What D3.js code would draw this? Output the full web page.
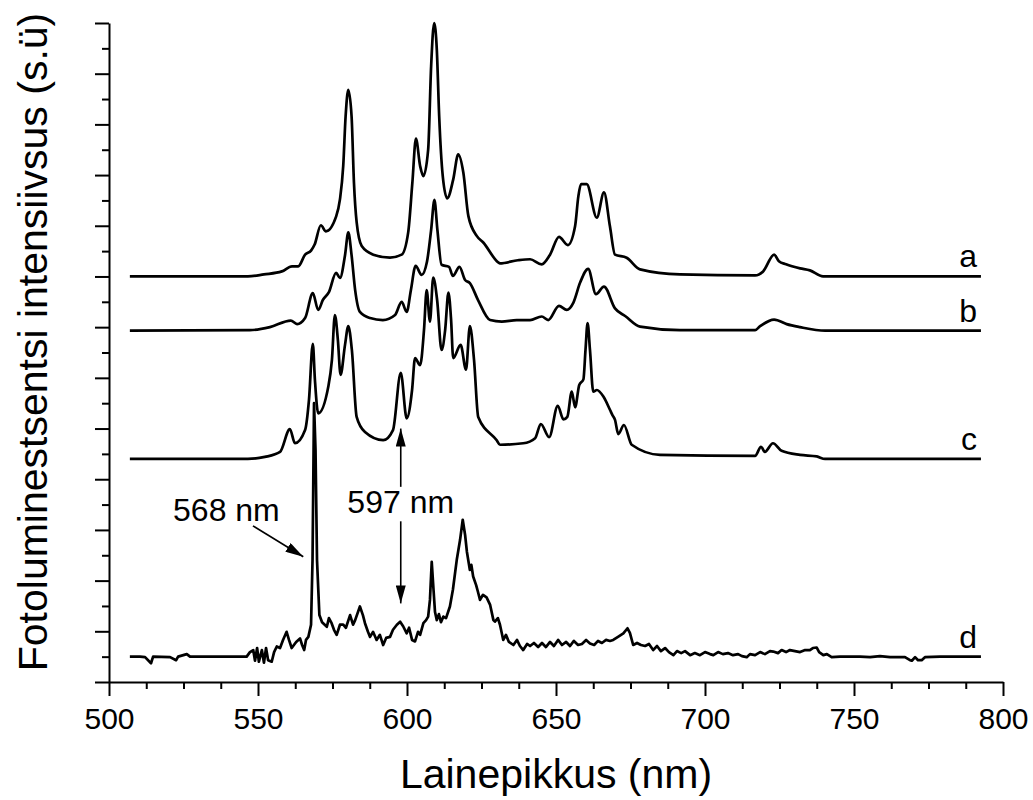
<!DOCTYPE html>
<html>
<head>
<meta charset="utf-8">
<script src="https://cdn.jsdelivr.net/npm/d3@7"></script>
<style>
  html, body { margin: 0; padding: 0; background: #fff; }
  svg { display: block; }
  text { font-family: Arial, "Liberation Sans", sans-serif; fill: #000; }
</style>
</head>
<body>
<svg id="chart" width="1033" height="800"></svg>
<script>
// ---- data (wavelength nm, relative intensity in axis units) ----
const seriesA = [[507,0],[546.6,0],[552,0.04],[558,0.1],[561.4,0.2],[563.5,0.2],[565.8,0.43],[567.8,0.51],[569,0.63],[571.1,1.01],[572.8,0.89],[576.2,1.18],[577.5,1.52],[578.6,2.18],[579.4,3.16],[580.3,3.68],[581.4,3.16],[582.2,1.85],[583.1,1.07],[584.8,0.6],[588.7,0.43],[594.3,0.37],[598.2,0.43],[600.4,0.87],[601.8,1.85],[603.0,2.72],[604.4,2.18],[605.5,1.98],[607.1,2.5],[608.1,4.15],[609.1,5.0],[610.0,4.48],[610.8,3.16],[612.0,1.98],[613.5,1.54],[615.5,1.91],[617.2,2.41],[618.9,2.05],[620.6,1.19],[623.4,0.8],[625.6,0.67],[630.6,0.28],[631.2,0.26],[637.2,0.32],[641.3,0.34],[645.2,0.24],[648,0.43],[651,0.78],[654,0.62],[656.4,0.99],[657.5,1.58],[658.4,1.82],[660.3,1.82],[663.7,1.16],[666.1,1.66],[668.1,0.99],[669.8,0.43],[673.7,0.37],[678.2,0.14],[691.6,0.04],[716.8,0.02],[719.5,0.1],[723.2,0.43],[724.8,0.3],[727.2,0.24],[731.9,0.16],[735.2,0.12],[739.6,0],[792.6,0]];

const seriesB = [[507,0],[547.3,0.01],[554.0,0.07],[561.0,0.2],[563.1,0.13],[565.8,0.25],[568.4,0.74],[570.2,0.41],[571.8,0.61],[573.8,0.76],[576.2,1.14],[577.5,1.04],[579.2,1.49],[580.3,1.94],[581.4,1.49],[582.6,0.8],[584.2,0.37],[587.6,0.25],[591.9,0.21],[596,0.31],[598.2,0.57],[599.9,0.37],[601.3,0.8],[602.9,1.28],[604.9,1.1],[606.7,1.36],[608.1,1.99],[609.2,2.58],[610.2,1.99],[611.6,1.3],[614.1,1.26],[615.4,1.08],[617.6,1.26],[619.5,1.0],[621.1,0.94],[623.8,0.61],[627.9,0.21],[631.8,0.18],[636.8,0.21],[641.3,0.21],[645.2,0.28],[647.4,0.21],[651.0,0.49],[653.6,0.41],[655.8,0.55],[658.1,0.95],[660.8,1.22],[663.4,0.72],[666.1,0.87],[669.8,0.44],[673.2,0.29],[678.2,0.08],[691.6,0.01],[716.8,0.01],[718.5,0.09],[723.2,0.22],[727.4,0.13],[731.9,0.07],[740.3,0],[792.6,0]];

const seriesC = [[507,0],[546.6,0],[552.3,0.04],[557.4,0.14],[560.7,0.59],[562.4,0.31],[565.8,0.57],[567.1,1.16],[568.4,2.27],[569.1,1.56],[570.2,0.9],[573.6,1.43],[574.8,1.95],[575.8,2.84],[576.8,2.35],[577.7,1.66],[579.2,2.25],[580.3,2.62],[581.5,2.15],[583.1,0.83],[585.9,0.53],[592,0.37],[595.3,0.57],[597.9,1.7],[599.9,0.8],[601.7,1.36],[602.7,1.99],[604.4,1.85],[605.7,2.54],[606.6,3.33],[607.7,2.71],[608.8,3.58],[610.1,3.14],[611.6,2.15],[612.8,2.54],[613.9,3.28],[614.8,2.74],[615.5,1.99],[618.0,2.25],[619.8,1.76],[621.1,2.62],[622.5,1.95],[623.9,0.83],[630.1,0.37],[631.2,0.28],[639.0,0.31],[643.0,0.41],[644.9,0.69],[647.7,0.43],[650.6,1.05],[652.5,0.78],[653.8,0.83],[655.3,1.33],[656.4,1.02],[657.8,1.46],[659.2,1.57],[659.9,2.15],[660.6,2.68],[661.4,2.15],[662.5,1.33],[663.7,1.36],[665.9,1.23],[668.1,0.97],[668.9,0.87],[669.8,0.77],[670.9,0.49],[672.8,0.67],[675.4,0.28],[684.9,0.08],[716.8,0.06],[718.8,0.24],[720.1,0.14],[722.8,0.31],[725.7,0.16],[731.9,0.08],[737.5,0.05],[740.3,0],[792.6,0]];

const seriesD = [[507.0,0],[510.4,0],[512.1,-0.01],[514.1,-0.13],[514.8,0],[520.5,-0.01],[522.5,-0.07],[523.2,0],[526.1,0.05],[527.2,0],[546.2,0],[547.3,0.09],[548.4,0.13],[549.0,-0.08],[549.7,0.17],[550.3,-0.10],[551.3,0.13],[552.0,-0.12],[552.7,0.17],[553.4,-0.07],[554.6,-0.10],[555.4,0.09],[556.3,0.20],[557.4,0.17],[558.4,0.33],[559.6,0.49],[560.4,0.33],[561.3,0.17],[562.8,0.29],[564.1,0.36],[564.8,0.23],[565.5,0.13],[566.1,0.33],[566.9,0.39],[567.8,0.63],[568.3,1.91],[568.8,5.00],[569.3,4.08],[569.8,1.91],[570.6,0.82],[571.5,0.68],[573.1,0.59],[573.8,0.76],[574.7,0.66],[575.5,0.53],[576.4,0.43],[577.5,0.63],[578.6,0.63],[579.5,0.57],[580.9,0.82],[581.9,0.63],[582.6,0.72],[584.2,0.99],[585.2,0.82],[585.9,0.66],[586.9,0.49],[587.6,0.39],[588.6,0.49],[589.8,0.33],[590.9,0.43],[592.0,0.23],[593.0,0.37],[594.3,0.39],[595.3,0.53],[596.6,0.63],[597.7,0.69],[598.7,0.60],[599.9,0.46],[600.7,0.57],[601.7,0.33],[602.7,0.30],[603.7,0.49],[604.4,0.43],[605.5,0.66],[606.4,0.72],[607.1,0.79],[607.7,1.12],[608.3,1.87],[608.9,1.32],[609.4,0.88],[610.0,0.72],[610.7,0.84],[611.4,0.68],[612.2,0.79],[613.1,0.76],[614.4,0.99],[615.4,1.32],[616.7,1.91],[617.8,2.30],[618.7,2.70],[619.5,2.40],[620.1,2.07],[621.1,1.71],[621.6,1.81],[622.2,1.58],[623.2,1.41],[623.8,1.28],[624.5,1.12],[625.5,1.22],[626.7,1.17],[627.9,1.02],[629.0,0.72],[629.5,0.69],[630.5,0.76],[631.2,0.63],[632.3,0.33],[633.2,0.43],[634.2,0.29],[635.7,0.23],[636.9,0.33],[637.9,0.21],[639.0,0.13],[640.3,0.25],[641.3,0.21],[642.6,0.27],[644.0,0.19],[645.3,0.27],[646.6,0.19],[648.0,0.29],[649.3,0.21],[650.7,0.33],[652.0,0.23],[653.4,0.29],[654.7,0.21],[656.0,0.31],[657.4,0.23],[658.7,0.25],[660.1,0.33],[661.4,0.26],[662.8,0.23],[664.1,0.31],[665.4,0.27],[666.8,0.33],[668.1,0.31],[669.2,0.33],[670.8,0.39],[672.6,0.46],[674.0,0.56],[674.8,0.47],[675.9,0.23],[677.2,0.27],[678.5,0.23],[679.9,0.21],[681.2,0.25],[682.6,0.13],[683.9,0.21],[685.2,0.11],[686.6,0.17],[687.9,0.09],[689.4,0.03],[690.6,0.11],[692.0,0.07],[693.3,0.11],[695.0,0.03],[696.6,0.07],[698.3,0.03],[700.0,0.09],[701.7,0.05],[702.8,0.03],[704.4,0.09],[706.0,0.05],[707.7,0.07],[709.4,0.03],[711.1,0.05],[712.4,0.01],[714.0,-0.01],[715.1,0.05],[716.8,0.03],[718.5,0.09],[720.1,0.05],[721.8,0.11],[722.9,0.10],[724.5,0.07],[725.7,0.13],[727.2,0.09],[728.5,0.13],[730.2,0.11],[731.9,0.09],[733.6,0.13],[735.2,0.13],[736.2,0.17],[737.5,0.18],[738.3,0.09],[739.7,0.03],[740.9,0.05],[742.5,-0.01],[745.3,0],[752.0,0],[755.4,-0.01],[758.7,0.01],[762.1,-0.01],[767.1,-0.01],[768.8,-0.07],[769.4,-0.08],[770.5,-0.01],[771.5,-0.07],[772.7,-0.07],[773.8,-0.01],[778.9,0],[792.6,0]];

const seriesNames = ["a", "b", "c", "d"];
const seriesOffsets = [8.0, 6.93, 4.40, 0.50];
const xMajorTicks = [500, 550, 600, 650, 700, 750, 800];
const xAxisTitle = "Lainepikkus (nm)";
const yAxisTitle = "Fotoluminestsentsi intensiivsus (s.ü)";
// annotations: label, label anchor (nm, y), arrow from/to (nm, y)
const annotations = [
  { text: "568 nm", lx: 539.4, ly: 3.17, from: [548.3, 3.08], to: [565.2, 2.47] },
  { text: "597 nm", lx: 597.9, ly: 3.33, from: [597.9, 3.85], to: [597.9, 5.0] },
  { text: "", lx: 0, ly: 0, from: [597.9, 3.17], to: [597.9, 1.55] }
];

// ---- chart ----
const svg = d3.select("#chart");
const x = d3.scaleLinear().domain([500, 800]).range([109, 1003]);
const y = d3.scaleLinear().domain([0, 13]).range([682, 23]);

const xMinor = d3.range(500, 800.01, 12.5).filter(v => !xMajorTicks.includes(v));
const yMajor = d3.range(0, 13.01, 1);
const yMinor = d3.range(0.5, 13, 1);

// x axis
const gx = svg.append("g").attr("transform", "translate(0,682)");
gx.call(d3.axisBottom(x).tickValues(xMajorTicks).tickSize(14).tickSizeOuter(0).tickPadding(12).tickFormat(d3.format("d")));
gx.append("g").call(d3.axisBottom(x).tickValues(xMinor).tickSize(7).tickSizeOuter(0).tickFormat(""))
  .select(".domain").remove();
gx.selectAll("text").style("font-size", "30px").style("font-family", "Arial, 'Liberation Sans', sans-serif").attr("fill", "#000");

// y axis
const gy = svg.append("g").attr("transform", "translate(109,0)");
gy.call(d3.axisLeft(y).tickValues(yMajor).tickSize(14).tickSizeOuter(0).tickFormat(""));
gy.append("g").call(d3.axisLeft(y).tickValues(yMinor).tickSize(7).tickSizeOuter(0).tickFormat(""))
  .select(".domain").remove();

svg.selectAll(".domain, .tick line").attr("stroke", "#000").attr("stroke-width", 2);

// axis titles
svg.append("text").attr("x", 556).attr("y", 788).attr("text-anchor", "middle")
  .style("font-size", "41px").text(xAxisTitle);
svg.append("text").attr("transform", "translate(47,342) rotate(-90)").attr("text-anchor", "middle")
  .style("font-size", "41px").text(yAxisTitle);

// series
const allSeries = [seriesA, seriesB, seriesC, seriesD];
allSeries.forEach((data, i) => {
  const off = seriesOffsets[i];
  const line = d3.line()
    .x(d => x(d[0]))
    .y(d => y(d[1] + off))
    .curve(i === 3 ? d3.curveLinear : d3.curveMonotoneX);
  svg.append("path").datum(data).attr("d", line)
    .attr("fill", "none").attr("stroke", "#000").attr("stroke-width", 2.7)
    .attr("stroke-linejoin", "round");
  const last = data[data.length - 1];
  svg.append("text").attr("x", x(last[0]) - 4).attr("y", y(off) - 9)
    .attr("text-anchor", "end").style("font-size", "32px").text(seriesNames[i]);
});

// annotations
const defs = svg.append("defs");
defs.append("marker").attr("id", "arrow").attr("viewBox", "0 0 18 10")
  .attr("refX", 18).attr("refY", 5).attr("markerWidth", 18).attr("markerHeight", 10)
  .attr("markerUnits", "userSpaceOnUse").attr("orient", "auto")
  .append("path").attr("d", "M0,0 L18,5 L0,10 Z").attr("fill", "#000");

annotations.forEach(a => {
  if (a.text) {
    svg.append("text").attr("x", x(a.lx)).attr("y", y(a.ly))
      .attr("text-anchor", "middle").style("font-size", "32px").text(a.text);
  }
  svg.append("line")
    .attr("x1", x(a.from[0])).attr("y1", y(a.from[1]))
    .attr("x2", x(a.to[0])).attr("y2", y(a.to[1]))
    .attr("stroke", "#000").attr("stroke-width", 1.6)
    .attr("marker-end", "url(#arrow)");
});
</script>
</body>
</html>
